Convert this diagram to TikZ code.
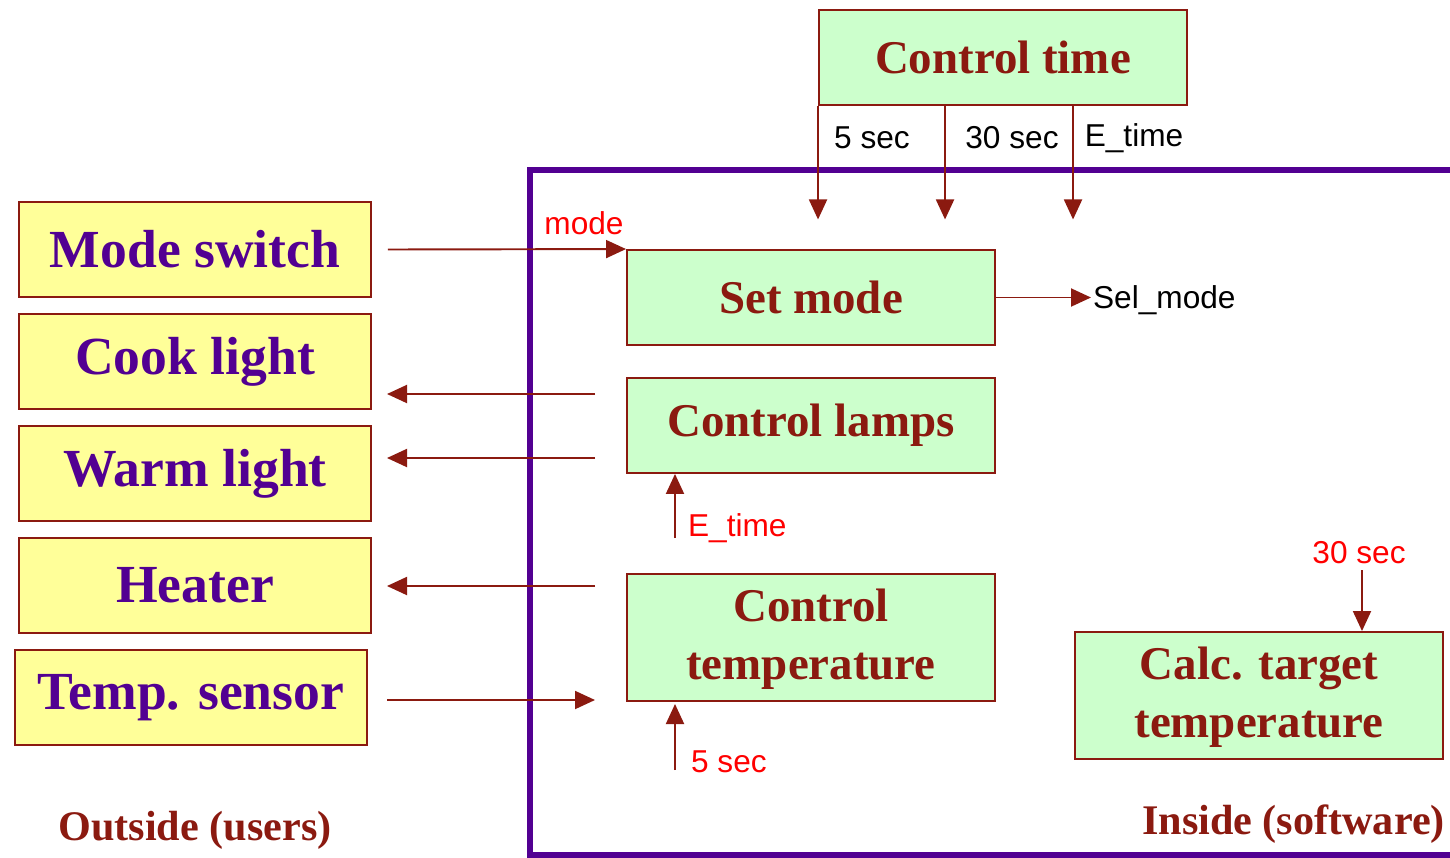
\documentclass[tikz,border=0pt]{standalone}
\usepackage{fontspec}
\setmainfont{Liberation Serif}
\newfontfamily\labfont{Liberation Sans}
\usetikzlibrary{arrows.meta,calc}

\definecolor{boxred}{HTML}{8B1A10}
\definecolor{outfill}{HTML}{FFFF99}
\definecolor{procfill}{HTML}{CCFFCC}
\definecolor{deeppurple}{HTML}{520092}

\tikzset{
  outbox/.style={draw=boxred, line width=1.1pt, fill=outfill, minimum width=7.04cm,
    minimum height=1.9cm, text=deeppurple, font=\fontsize{30.5}{34}\selectfont\bfseries},
  procbox/.style={draw=boxred, line width=1.1pt, fill=procfill, minimum width=7.36cm,
    minimum height=1.9cm, text=boxred, align=center, font=\fontsize{26.7}{33}\selectfont\bfseries},
  arr/.style={draw=boxred, line width=1.1pt, -{Triangle[length=0.4cm,width=0.36cm]}},
  lbl/.style={font=\labfont\fontsize{18}{20}\selectfont, inner sep=1pt},
  redlbl/.style={lbl, text=red},
  sidelbl/.style={text=boxred, font=\fontsize{24}{28}\selectfont\bfseries}
}

\begin{document}
\begin{tikzpicture}
\useasboundingbox (0,0) rectangle (29,-17.14);
% software boundary
\draw[deeppurple, line width=3.6pt] (29.6,-3.4) -- (10.6,-3.4) -- (10.6,-17.1) -- (29.6,-17.1);

% outside
\node[outbox] (ms) at (3.9,-4.99) {Mode switch};
\node[outbox] (cl) at (3.9,-7.23) {Cook light};
\node[outbox] (wl) at (3.9,-9.47) {Warm light};
\node[outbox] (ht) at (3.9,-11.71) {Heater};
\node[outbox] (ts) at (3.82,-13.95) {Temp. sensor};
\node[sidelbl] (outside) at (3.9,-16.6) {Outside (users)};

% inside
\node[procbox] (ct) at (20.06,-1.15) {Control time};
\node[procbox] (sm) at (16.22,-5.95) {Set mode};
\node[procbox] (lamps) at (16.22,-8.51) {Control lamps};
\node[procbox, minimum height=2.54cm, text depth=0.12cm] (ctemp) at (16.22,-12.75) {Control\\temperature};
\node[procbox, minimum height=2.54cm, text depth=0.12cm] (calc) at (25.18,-13.91) {Calc. target\\temperature};
\node[sidelbl, anchor=east] (inside) at (29.02,-16.48) {Inside (software)};

% timer signals
\draw[arr] (ct.south west) -- ++(0,-2.27);
\draw[arr] ([xshift=2.54cm]ct.south west) -- ++(0,-2.27);
\draw[arr] ([xshift=5.1cm]ct.south west) -- ++(0,-2.27);
\node[lbl] (t5) at (17.44,-2.76) {5 sec};
\node[lbl] (t30) at (20.24,-2.76) {30 sec};
\node[lbl] (tE) at (22.68,-2.76) {E\_time};

% mode in, sel_mode out
\draw[arr] ([xshift=0.32cm]ms.east) -- (sm.north west);
\node[redlbl] (modelbl) at (11.68,-4.46) {mode};
\node[lbl, anchor=west] (sel) at (21.82,-6.0) {Sel\_mode};
\draw[arr] (sm.east) -- (sel.west |- sm.east);

% lamp and heater outputs
\coordinate (cook-in) at (11.9,-7.88);
\coordinate (cook-out) at (7.74,-7.88);
\coordinate (warm-in) at (11.9,-9.16);
\coordinate (warm-out) at (7.74,-9.16);
\coordinate (heat-in) at (11.9,-11.72);
\coordinate (heat-out) at (7.74,-11.72);
\coordinate (sens-in) at (11.9,-14.0);
\coordinate (sens-out) at (7.74,-14.0);
\draw[arr] (cook-in) -- (cook-out);
\draw[arr] (warm-in) -- (warm-out);
\draw[arr] (heat-in) -- (heat-out);
\draw[arr] (sens-out) -- (sens-in);

% local triggers
\coordinate (et-src) at (13.5,-10.76);
\draw[arr] (et-src) -- (et-src |- lamps.south);
\node[redlbl, anchor=west] (etlbl) at (13.72,-10.56) {E\_time};
\coordinate (s5-src) at (13.5,-15.4);
\draw[arr] (s5-src) -- (13.5,-14.08);
\node[redlbl, anchor=west] (s5lbl) at (13.78,-15.24) {5 sec};
\node[redlbl] (s30lbl) at (27.18,-11.06) {30 sec};
\draw[arr] (27.24,-11.4) coordinate (s30-src) -- (s30-src |- calc.north);
\end{tikzpicture}
\end{document}
